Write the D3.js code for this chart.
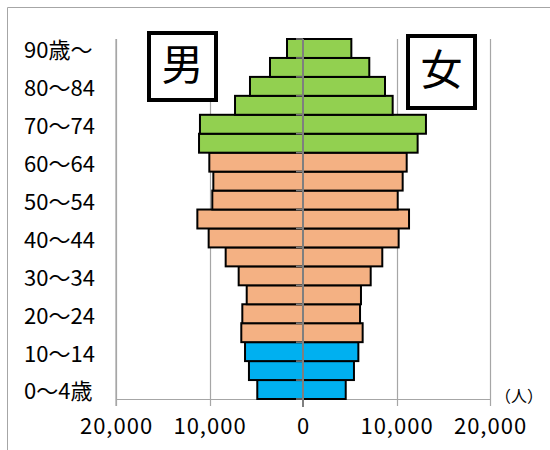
<!DOCTYPE html>
<html>
<head>
<meta charset="utf-8">
<script src="https://cdn.jsdelivr.net/npm/d3@7"></script>
<style>
  body { margin: 0; background: #fff; }
  svg { display: block; }
  text { font-family: "Noto Sans CJK JP", "Noto Sans", sans-serif; fill: #000; }
</style>
</head>
<body>
<svg id="chart" width="550" height="450"></svg>
<script>
// Age groups, bottom (youngest) to top (oldest)
const ageGroups = ["0～4歳","5～9","10～14","15～19","20～24","25～29","30～34","35～39","40～44","45～49","50～54","55～59","60～64","65～69","70～74","75～79","80～84","85～89","90歳～"];
const shownLabels = ["0～4歳","10～14","20～24","30～34","40～44","50～54","60～64","70～74","80～84","90歳～"];
const male   = [4890,5780,6200,6600,6490,6020,6880,8270,10090,11300,9700,9590,10020,11120,11020,7270,5670,3530,1710];
const female = [4570,5450,5920,6380,6100,6200,7240,8480,10230,11340,10130,10660,11090,12260,13150,9590,8770,7090,5170];
const groupOf = ["child","child","child","work","work","work","work","work","work","work","work","work","work","old","old","old","old","old","old"];
const xTicks = [-20000,-10000,0,10000,20000];
const colors = { child: "#00B0F0", work: "#F4B183", old: "#92D050" };

const svg = d3.select("#chart");
const x = d3.scaleLinear().domain([-20000, 20000]).range([116, 490]);
const y = d3.scaleBand().domain(ageGroups.slice().reverse()).range([39, 399]).padding(0);

// outer frame (top & left visible)
svg.append("path").attr("d", "M7.5,455 V7.5 H560").attr("fill", "none").attr("stroke", "#a6a6a6").attr("stroke-width", 1);

// gridlines
svg.append("g").selectAll("line").data(xTicks.filter(d => d !== 0)).join("line")
  .attr("x1", d => Math.round(x(d)) + 0.5).attr("x2", d => Math.round(x(d)) + 0.5)
  .attr("y1", 39).attr("y2", 406)
  .attr("stroke", "#a6a6a6").attr("stroke-width", 1.2);

// bottom axis line
svg.append("line").attr("x1", x(-20000)).attr("x2", x(20000)).attr("y1", 399.5).attr("y2", 399.5)
  .attr("stroke", "#a6a6a6").attr("stroke-width", 1.2);

// x tick labels via axis
const xAxis = d3.axisBottom(x).tickValues(xTicks).tickSize(0).tickPadding(0)
  .tickFormat(d => d3.format(",")(Math.abs(d)));
const gx = svg.append("g").attr("transform", "translate(0,407)").call(xAxis);
gx.select(".domain").remove();
gx.selectAll("text").attr("font-size", 22).attr("y", 27).attr("dy", null)
  .attr("letter-spacing", 1)
  .style("font-family", '"Noto Sans CJK JP", sans-serif').attr("fill", "#000");

// bars
const rows = ageGroups.map((a, i) => ({ age: a, m: male[i], f: female[i], g: groupOf[i] }));
const bars = svg.append("g");
bars.selectAll("rect.m").data(rows).join("rect").attr("class", "m")
  .attr("x", d => x(-d.m)).attr("width", d => x(0) - x(-d.m))
  .attr("y", d => y(d.age)).attr("height", y.bandwidth())
  .attr("fill", d => colors[d.g]).attr("stroke", "#000").attr("stroke-width", 2);
bars.selectAll("rect.f").data(rows).join("rect").attr("class", "f")
  .attr("x", x(0)).attr("width", d => x(d.f) - x(0))
  .attr("y", d => y(d.age)).attr("height", y.bandwidth())
  .attr("fill", d => colors[d.g]).attr("stroke", "#000").attr("stroke-width", 2);

// zero line (category axis) and ticks at band boundaries
svg.append("line").attr("x1", x(0)).attr("x2", x(0)).attr("y1", 39).attr("y2", 407)
  .attr("stroke", "#7f7f7f").attr("stroke-width", 2);
const bounds = ageGroups.map(a => y(a)).concat([y(ageGroups[0]) + y.bandwidth()]);
svg.append("g").selectAll("line").data(bounds).join("line")
  .attr("x1", x(0) - 7).attr("x2", x(0)).attr("y1", d => d).attr("y2", d => d)
  .attr("stroke", "#7f7f7f").attr("stroke-width", 1.5);

// left axis line
svg.append("line").attr("x1", 116).attr("x2", 116).attr("y1", 39).attr("y2", 406)
  .attr("stroke", "#a6a6a6").attr("stroke-width", 1.2);

// category labels
svg.append("g").selectAll("text").data(shownLabels).join("text")
  .attr("x", 24).attr("y", d => y(d) + y.bandwidth() / 2 + 4)
  .attr("dominant-baseline", "middle")
  .attr("font-size", 22).text(d => d);

// unit
svg.append("text").attr("x", 495).attr("y", 398).attr("dominant-baseline", "middle")
  .attr("font-size", 16).text("（人）");

// sex boxes
const boxes = [
  { t: "男", x: 149, y: 33, w: 67, h: 67 },
  { t: "女", x: 408, y: 36, w: 67, h: 72 }
];
const bg = svg.append("g").selectAll("g").data(boxes).join("g");
bg.append("rect").attr("x", d => d.x).attr("y", d => d.y).attr("width", d => d.w).attr("height", d => d.h)
  .attr("fill", "#fff").attr("stroke", "#000").attr("stroke-width", 4);
bg.append("text").attr("x", d => d.x + d.w / 2).attr("y", d => d.y + d.h / 2 + 2)
  .attr("text-anchor", "middle").attr("dominant-baseline", "middle")
  .attr("font-size", 42).text(d => d.t);
</script>
</body>
</html>
